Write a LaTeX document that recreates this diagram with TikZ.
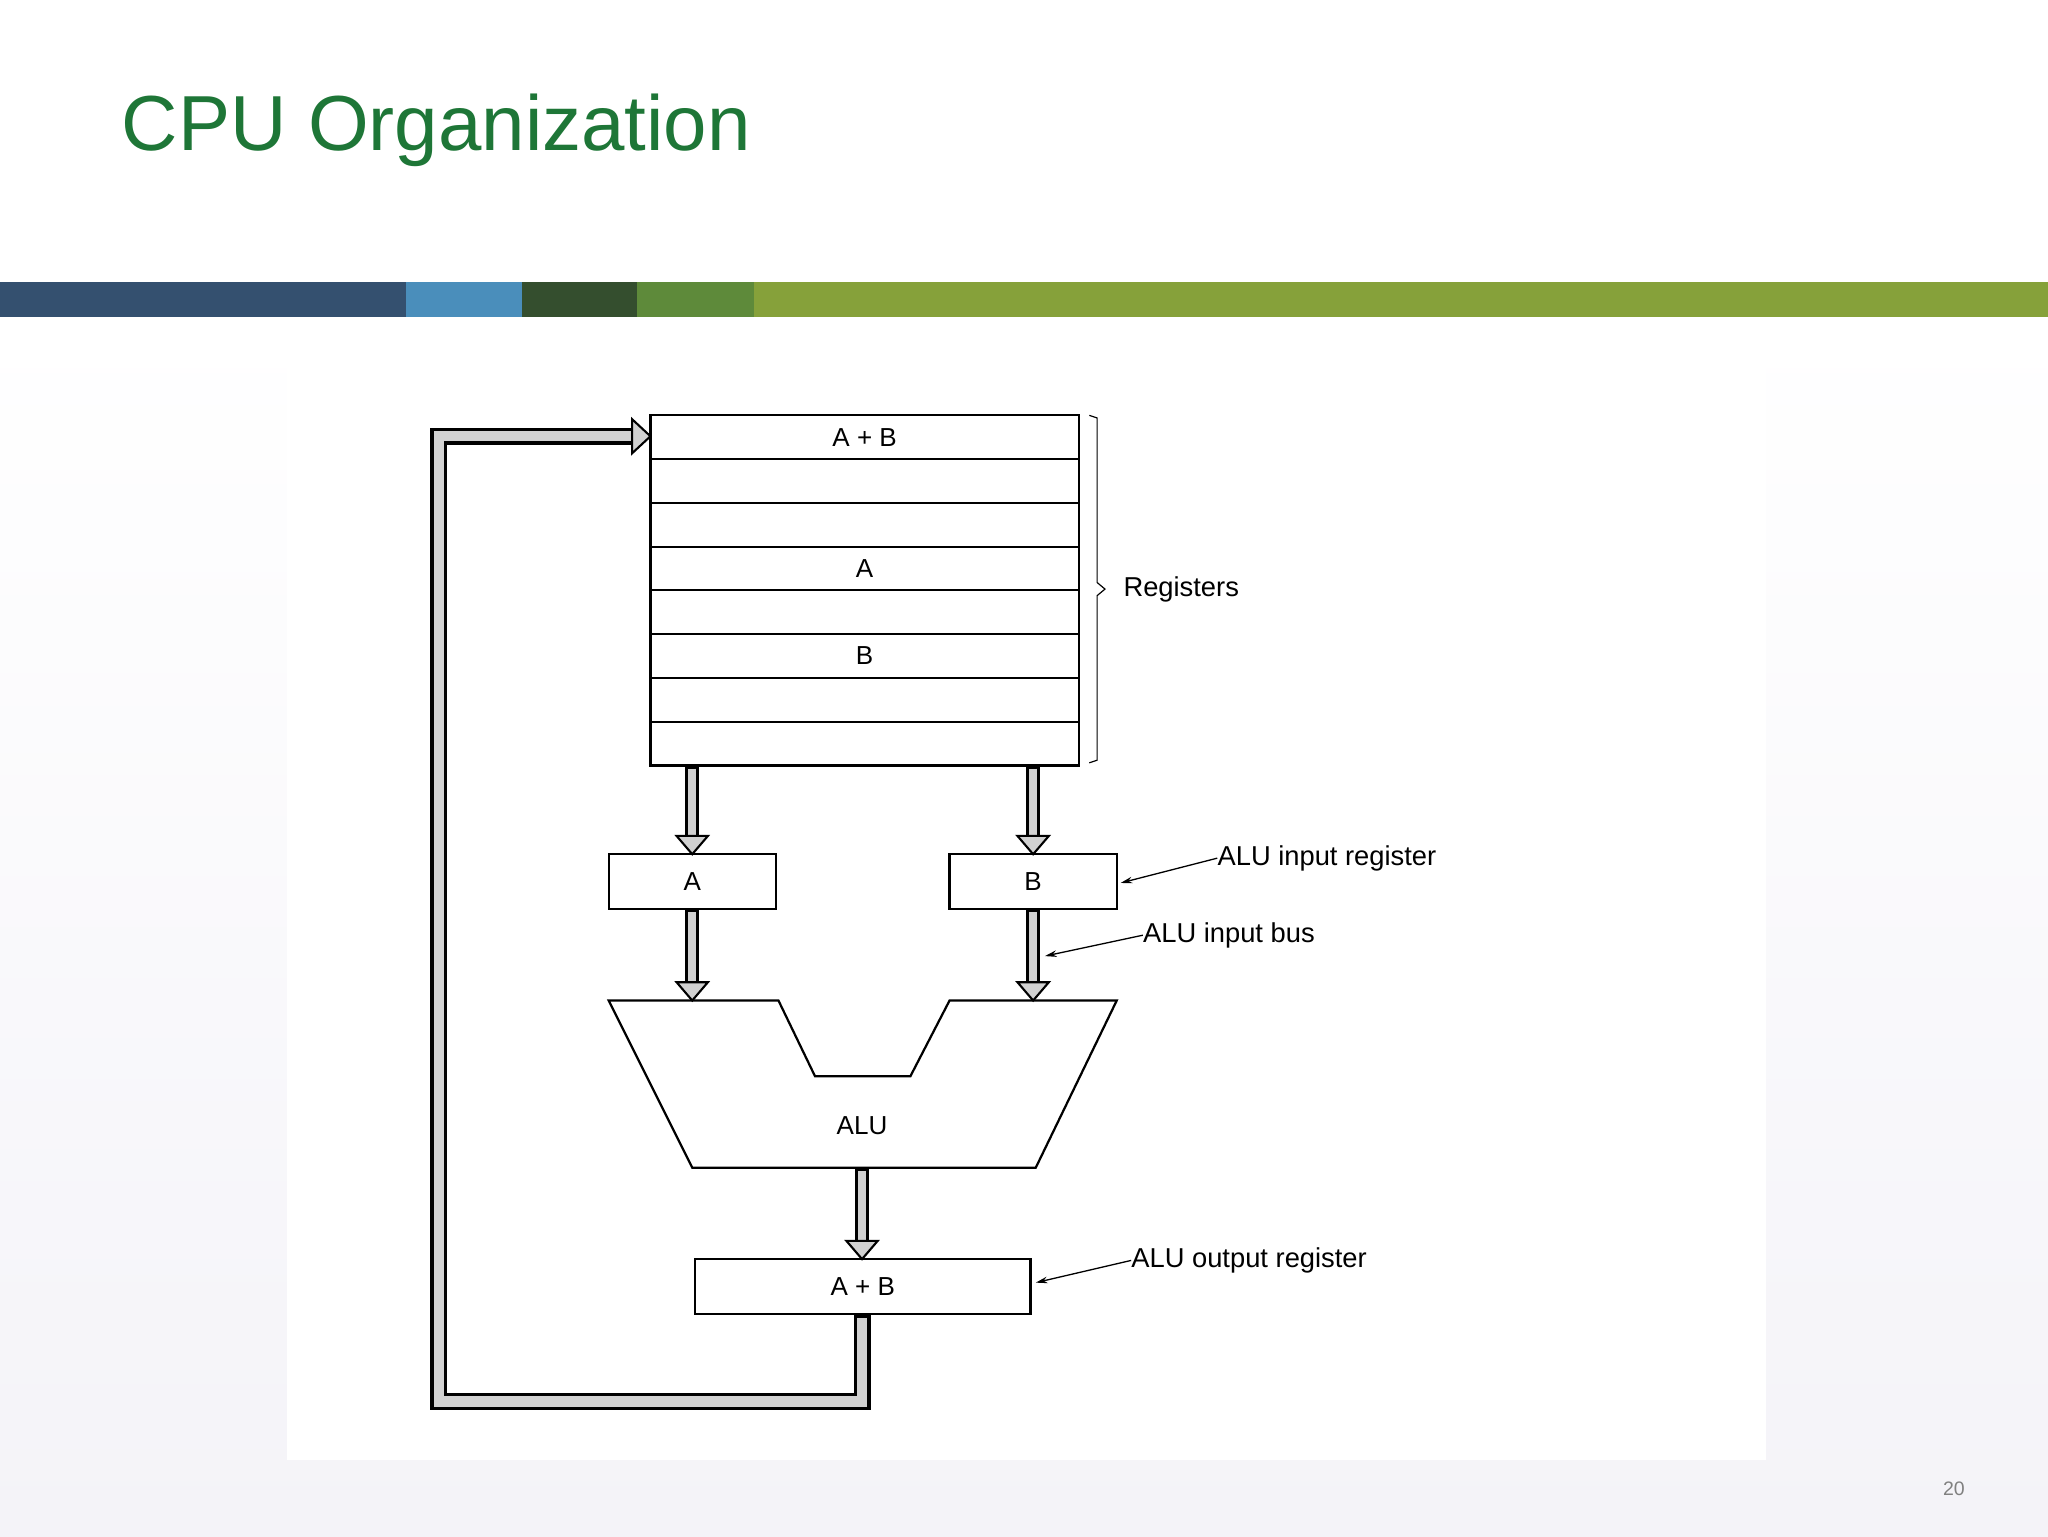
\documentclass[tikz,border=0pt]{standalone}
\usepackage{fontspec}
\setmainfont{Liberation Sans}
\usetikzlibrary{calc,arrows.meta}
\definecolor{titlegreen}{HTML}{1E7637}
\definecolor{busfill}{gray}{0.82}
\newcommand{\busarrow}[2]{%
  \draw[line width=11bp,black] (#1) -- ($(#2)+(0,-12)$);
  \draw[line width=6.5bp,busfill] ($(#1)+(0,1.5)$) -- ($(#2)+(0,-12)$);
  \draw[fill=busfill,line width=1.6bp,line join=miter] ($(#2)+(-12,-14)$) -- (#2) -- ($(#2)+(12,-14)$) -- cycle;}
\begin{document}
\begin{tikzpicture}[x=1bp,y=-1bp,
  box/.style={draw,line width=1.7bp},
  lbl/.style={font=\fontsize{21}{24}\selectfont,anchor=west,inner sep=0},
  inl/.style={font=\fontsize{20}{24}\selectfont},
  ptr/.style={line width=1bp,-{Stealth[length=9bp,width=5bp]}}]
\useasboundingbox (0,0) rectangle (1568,1176);
\shade[top color=white,bottom color={rgb,255:red,244;green,243;blue,248}] (0,243) rectangle (1568,1176);
\fill[white] (220,243) rectangle (1352,1118);
\node[anchor=base west,inner sep=0,text=titlegreen,font=\fontsize{60}{70}\selectfont] (title) at (93,115) {CPU Organization};
\fill[fill={rgb,255:red,52;green,80;blue,111}] (0,216) rectangle (311,243);
\fill[fill={rgb,255:red,74;green,142;blue,187}] (311,216) rectangle (400,243);
\fill[fill={rgb,255:red,52;green,78;blue,46}] (400,216) rectangle (488,243);
\fill[fill={rgb,255:red,94;green,138;blue,58}] (488,216) rectangle (577,243);
\fill[fill={rgb,255:red,134;green,161;blue,58}] (577,216) rectangle (1568,243);
\node[text=gray,font=\fontsize{15}{18}\selectfont] (pg) at (1496,1140) {20};
% registers
\draw[box] (498,318) rectangle (826,586);
\foreach \i in {1,...,7} \draw[line width=1.7bp] (498,{318+\i*33.5}) -- (826,{318+\i*33.5});
\node[inl] (r1) at (662,335) {A + B};
\node[inl] (r4) at (662,435) {A};
\node[inl] (r6) at (662,502) {B};
\draw[line width=0.9bp] (834,318) -- (840,320) -- (840,446) -- (846,451) -- (840,456) -- (840,582) -- (834,584);
\node[lbl] (regs) at (860,451) {Registers};
% ALU input registers
\node[box,minimum width=128bp,minimum height=42bp,inl] (ra) at (530,675) {A};
\node[box,minimum width=128bp,minimum height=42bp,inl] (rb) at (791,675) {B};
\coordinate (s1) at (530,587); \coordinate (e1) at (530,654);
\coordinate (s2) at (791,587); \coordinate (e2) at (791,654);
\coordinate (s3) at (530,697); \coordinate (e3) at (530,766);
\coordinate (s4) at (791,697); \coordinate (e4) at (791,766);
\coordinate (s5) at (660,895); \coordinate (e5) at (660,964);
\busarrow{s1}{e1}\busarrow{s2}{e2}\busarrow{s3}{e3}\busarrow{s4}{e4}
% ALU
\draw[line width=1.7bp,line join=miter] (466,766) -- (596,766) -- (624,824) -- (697,824) -- (727,766) -- (855,766) -- (793,894) -- (530,894) -- cycle;
\node[inl] (alu) at (660,862) {ALU};
\busarrow{s5}{e5}
\node[box,minimum width=257bp,minimum height=42bp,inl] (out) at (660.5,985) {A + B};
% feedback
\draw[line width=13bp,line join=miter] (660,1007) -- (660,1073) -- (336,1073) -- (336,334) -- (484,334);
\draw[line width=8bp,busfill,line join=miter] (660,1009) -- (660,1073) -- (336,1073) -- (336,334) -- (486,334);
\draw[fill=busfill,line width=1.6bp,line join=miter] (484,321) -- (498,334) -- (484,347) -- cycle;
% labels
\node[lbl] (l1) at (932,657) {ALU input register};
\node[lbl] (l2) at (875,716) {ALU input bus};
\node[lbl] (l3) at (866,965) {ALU output register};
\draw[ptr] (l1.west) -- (858,676);
\draw[ptr] (l2.west) -- (800,732);
\draw[ptr] (l3.west) -- (793,982);
\end{tikzpicture}
\end{document}
